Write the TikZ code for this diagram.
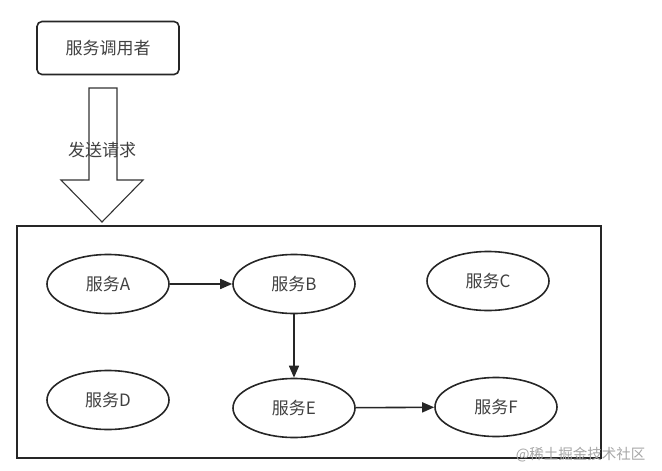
\documentclass[tikz,border=0pt]{standalone}
\usepackage{fontspec}
\setmainfont{Noto Sans CJK SC}
\usetikzlibrary{shapes.geometric,arrows.meta}
\begin{document}
\begin{tikzpicture}[x=1pt,y=-1pt,
  txt/.style={text=black!75, font=\fontsize{17}{19}\selectfont},
  svc/.style={ellipse, draw=black!85, line width=1.6pt, minimum width=122pt, minimum height=59pt, inner sep=0pt, txt},
  conn/.style={draw=black!85, line width=1.6pt, -{Triangle[length=12pt,width=10pt]}}]
\useasboundingbox (0,0) rectangle (662,471);
\node[draw=black!85, line width=1.6pt, rounded corners=5pt, minimum width=142pt, minimum height=53pt, txt] (caller) at (108,48) {服务调用者};
\draw[draw=black!80, line width=1.1pt, fill=white] (89,88) -- (117,88) -- (117,180) -- (143,180) -- (102,222) -- (61,180) -- (89,180) -- cycle;
\node[txt] (send) at (102,150) {发送请求};
\node[draw=black!85, line width=1.6pt, minimum width=584pt, minimum height=232pt, inner sep=0pt] (frame) at (309,342) {};
\node[svc] (A) at (108,284) {服务A};
\node[svc] (B) at (294,284) {服务B};
\node[svc] (C) at (488,281) {服务C};
\node[svc] (D) at (108,400) {服务D};
\node[svc] (E) at (294,408) {服务E};
\node[svc] (F) at (496,407) {服务F};
\draw[conn] (A) -- (B);
\draw[conn] (B) -- (E);
\draw[conn] (E) -- (F);
\node[text=black!35, font=\fontsize{14.5}{16}\selectfont, anchor=east] (wm) at (649,455) {@稀土掘金技术社区};
\end{tikzpicture}
\end{document}
